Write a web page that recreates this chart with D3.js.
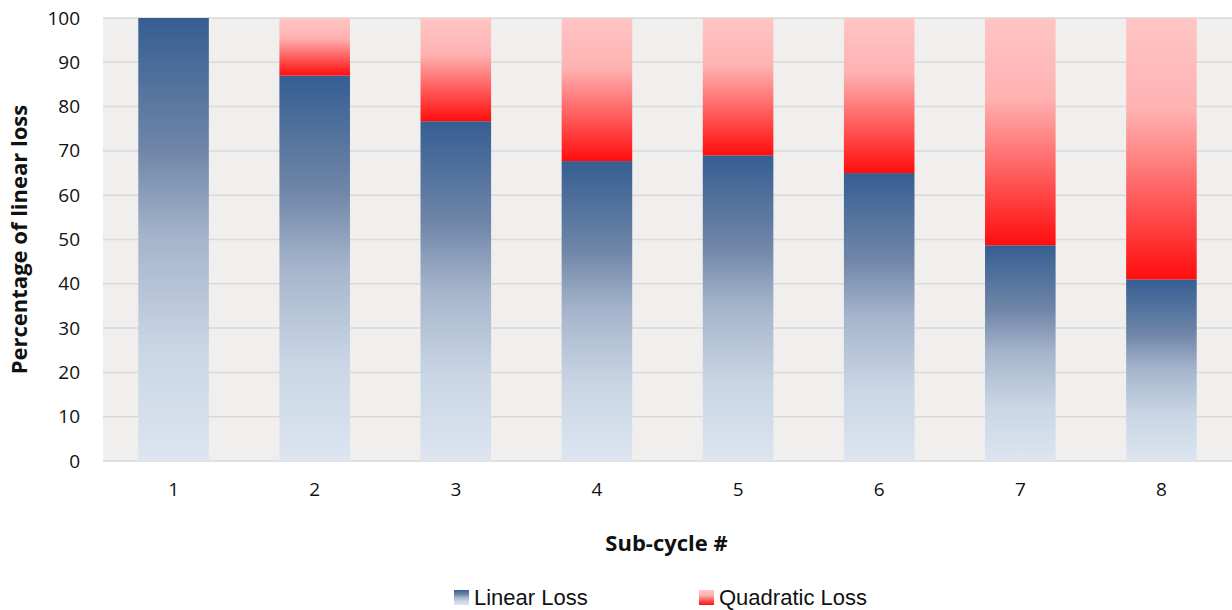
<!DOCTYPE html>
<html>
<head>
<meta charset="utf-8">
<script src="https://cdn.jsdelivr.net/npm/d3@7"></script>
<style>
  body { margin: 0; background: #fff; }
  svg { display: block; }
</style>
</head>
<body>
<svg id="chart"></svg>
<script>
// chart data
const cycles = ["1", "2", "3", "4", "5", "6", "7", "8"];
const linearLoss = [100, 87, 76.7, 67.7, 69, 65, 48.7, 41];
const quadraticLoss = [0, 13, 23.3, 32.3, 31, 35, 51.3, 59];
const yTicks = [0, 10, 20, 30, 40, 50, 60, 70, 80, 90, 100];

const W = 1232, H = 610;
const margin = { top: 18, right: 0, bottom: 149, left: 103 };
const innerW = W - margin.left - margin.right;
const innerH = H - margin.top - margin.bottom;

const svg = d3.select('#chart').attr('width', W).attr('height', H);

// gradients (dark at top of each blue bar, red at bottom of each red bar)
const defs = svg.append('defs');
const blue = defs.append('linearGradient').attr('id', 'gBlue')
    .attr('x1', 0).attr('y1', 0).attr('x2', 0).attr('y2', 1);
[[0, '#355e92'], [0.3, '#7086a8'], [0.5, '#a6b5cc'], [0.75, '#cad6e5'], [1, '#dce5f0']]
  .forEach(s => blue.append('stop').attr('offset', s[0]).attr('stop-color', s[1]));

const red = defs.append('linearGradient').attr('id', 'gRed')
    .attr('x1', 0).attr('y1', 0).attr('x2', 0).attr('y2', 1);
[[0, '#ffc5c5'], [0.35, '#ffb2b2'], [1, '#ff0d0d']]
  .forEach(s => red.append('stop').attr('offset', s[0]).attr('stop-color', s[1]));

const g = svg.append('g').attr('transform', `translate(${margin.left},${margin.top})`);

const x = d3.scaleBand().domain(cycles).range([0, innerW]).paddingInner(0.5).paddingOuter(0.25);
const y = d3.scaleLinear().domain([0, 100]).range([innerH, 0]);

// plot background
g.append('rect').attr('width', innerW).attr('height', innerH).attr('fill', '#f0efed');

// gridlines
g.selectAll('.grid').data(yTicks).enter().append('line')
    .attr('x1', 0).attr('x2', innerW)
    .attr('y1', d => y(d)).attr('y2', d => y(d))
    .attr('stroke', '#d9d9d9').attr('stroke-width', 1.5);

// linear loss bars
g.selectAll('.lin').data(cycles).enter().append('rect')
    .attr('x', d => x(d))
    .attr('width', x.bandwidth())
    .attr('y', (d, i) => y(linearLoss[i]))
    .attr('height', (d, i) => y(0) - y(linearLoss[i]))
    .attr('fill', 'url(#gBlue)');

// quadratic loss bars stacked on top
g.selectAll('.quad').data(cycles).enter().append('rect')
    .attr('x', d => x(d))
    .attr('width', x.bandwidth())
    .attr('y', (d, i) => y(linearLoss[i] + quadraticLoss[i]))
    .attr('height', (d, i) => y(linearLoss[i]) - y(linearLoss[i] + quadraticLoss[i]))
    .attr('fill', 'url(#gRed)');

// y axis labels
const yAxis = g.append('g').call(d3.axisLeft(y).tickValues(yTicks).tickSize(0).tickPadding(23));
yAxis.select('.domain').remove();
yAxis.selectAll('text')
    .attr('font-family', 'Open Sans, sans-serif')
    .attr('font-size', 19).attr('fill', '#111');

// x axis labels
const xAxis = g.append('g').attr('transform', `translate(0,${innerH})`)
    .call(d3.axisBottom(x).tickSize(0).tickPadding(22));
xAxis.select('.domain').remove();
xAxis.selectAll('text')
    .attr('font-family', 'Open Sans, sans-serif')
    .attr('font-size', 19).attr('fill', '#111');

// axis titles
svg.append('text')
    .attr('x', margin.left + innerW / 2 - 1).attr('y', 551)
    .attr('text-anchor', 'middle')
    .attr('font-family', 'Open Sans, sans-serif')
    .attr('font-weight', 'bold').attr('font-size', 22).attr('fill', '#111')
    .text('Sub-cycle #');

svg.append('text')
    .attr('transform', `translate(27,${margin.top + innerH / 2}) rotate(-90)`)
    .attr('text-anchor', 'middle')
    .attr('font-family', 'Open Sans, sans-serif')
    .attr('font-weight', 'bold').attr('font-size', 22).attr('fill', '#111')
    .text('Percentage of linear loss');

// legend
const legendItems = [
  { name: 'Linear Loss', fill: 'url(#gBlue)', x: 454 },
  { name: 'Quadratic Loss', fill: 'url(#gRed)', x: 699 }
];
const lg = svg.selectAll('.legend').data(legendItems).enter().append('g')
    .attr('transform', d => `translate(${d.x},590)`);
lg.append('rect').attr('width', 15).attr('height', 15).attr('fill', d => d.fill);
lg.append('text')
    .attr('x', 20).attr('y', 15)
    .attr('font-family', 'Liberation Sans Narrow, Liberation Sans, sans-serif')
    .attr('font-size', 22).attr('fill', '#111')
    .text(d => d.name);
</script>
</body>
</html>
